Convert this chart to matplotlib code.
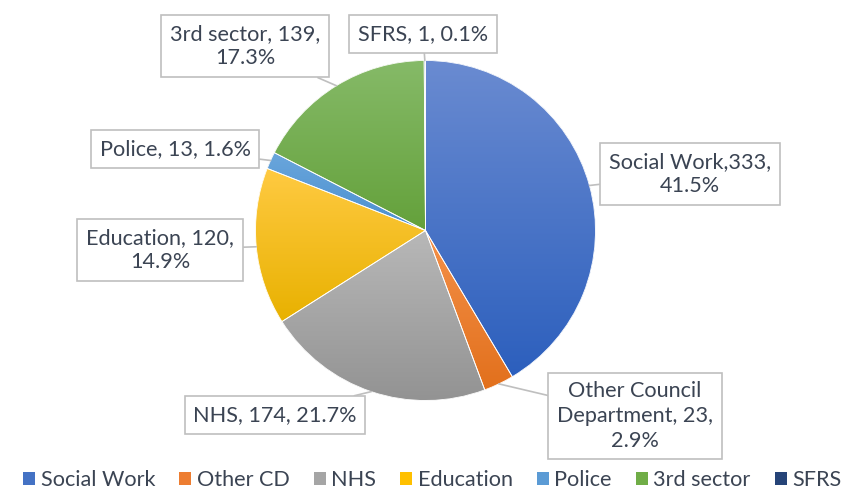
import numpy as np
import matplotlib
matplotlib.use("Agg")
import matplotlib.pyplot as plt
from matplotlib.colors import to_rgb
from matplotlib.patches import Wedge, Patch

# data
categories = ["Social Work", "Other CD", "NHS", "Education", "Police", "3rd sector", "SFRS"]
counts = [333, 23, 174, 120, 13, 139, 1]
label_texts = [
    "Social Work,333,\n41.5%",
    "Other Council\nDepartment, 23,\n2.9%",
    "NHS, 174, 21.7%",
    "Education, 120,\n14.9%",
    "Police, 13, 1.6%",
    "3rd sector, 139,\n17.3%",
    "SFRS, 1, 0.1%",
]

base_colors = ["#4472C4", "#ED7D31", "#A5A5A5", "#FFC000", "#5B9BD5", "#70AD47", "#264478"]
grad_top = ["#6a8bd1", "#f4914a", "#b8b8b8", "#ffca42", "#6aa6dc", "#86ba68", "#2f528f"]
grad_bottom = ["#2c5fbd", "#e2701c", "#939393", "#e8b100", "#4a8fcf", "#64a13b", "#203864"]

# label box centres in pixel coords (top-left origin)
label_pos = [(690, 174), (635, 416), (275, 415), (160, 250), (175, 149), (245, 46), (423, 34)]

W, H = 848, 490
text_color = "#3b4453"
fs = 15.6
plt.rcParams["font.family"] = ["Lato", "DejaVu Sans"]

fig = plt.figure(figsize=(W / 100, H / 100), dpi=100)
ax = fig.add_axes([0, 0, 1, 1])

cx, cy, r = 425.5, H - 230.5, 170
wedges, _ = ax.pie(counts, colors=base_colors, startangle=90, counterclock=False,
                   center=(cx, cy), radius=r, wedgeprops=dict(linewidth=0))

# vertical gradient inside every slice
for w, c0, c1 in zip(wedges, grad_bottom, grad_top):
    ext = w.get_path().get_extents()
    t = np.linspace(0, 1, 256)[:, None, None]
    img = (1 - t) * np.array(to_rgb(c0)) + t * np.array(to_rgb(c1))
    im = ax.imshow(img, extent=[ext.x0, ext.x1, ext.y0, ext.y1], origin="lower",
                   aspect="auto", interpolation="bilinear", zorder=1.5)
    im.set_clip_path(w)

# thin white separators
for w in wedges:
    ax.add_patch(Wedge(w.center, w.r, w.theta1, w.theta2, facecolor="none",
                       edgecolor="white", linewidth=0.6, zorder=2))

# callout labels
for w, txt, (px, py) in zip(wedges, label_texts, label_pos):
    ang = np.deg2rad((w.theta1 + w.theta2) / 2)
    xy = (cx + r * np.cos(ang), cy + r * np.sin(ang))
    ax.annotate(txt, xy=xy, xytext=(px, H - py), ha="center", va="center",
                fontsize=fs, color=text_color, linespacing=1.3, zorder=4,
                bbox=dict(boxstyle="square,pad=0.4", fc="white", ec="#bfbfbf", lw=1.2),
                arrowprops=dict(arrowstyle="-", color="#bfbfbf", lw=1.2,
                                shrinkA=0, shrinkB=0))

handles = [Patch(facecolor=c, edgecolor="none") for c in base_colors]
ax.legend(handles, categories, ncol=7, loc="lower center", bbox_to_anchor=(0.51, -0.027),
          frameon=False, fontsize=fs, labelcolor=text_color, handlelength=0.55,
          handleheight=0.55, handletextpad=0.25, columnspacing=1.12, borderaxespad=0.2)

ax.set_xlim(0, W)
ax.set_ylim(0, H)
ax.set_aspect("equal")
ax.axis("off")

fig.savefig("out.png", dpi=100)
